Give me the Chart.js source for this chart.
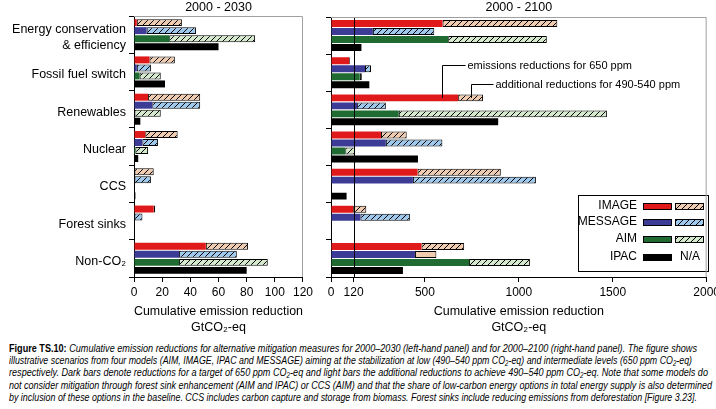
<!DOCTYPE html>
<html>
<head>
<meta charset="utf-8">
<script src="https://cdn.jsdelivr.net/npm/chart.js@4.4.1/dist/chart.umd.min.js"></script>
<style>
  body { margin: 0; background: #fff; width: 716px; height: 409px; overflow: hidden; position: relative; font-family: "Liberation Sans", Arial, sans-serif; }
  #left { position: absolute; left: 0; top: 0; }
  #right { position: absolute; left: 315px; top: 0; }
  #caption { position: absolute; left: 9px; top: 342px; font-size: 11px; line-height: 12.2px; font-style: italic; color: #000; }
  #caption div { white-space: nowrap; display: block; width: max-content; transform-origin: 0 0; }
  #caption b { font-style: normal; }
</style>
</head>
<body>
<canvas id="left" width="316" height="336"></canvas>
<canvas id="right" width="408" height="336"></canvas>
<div id="caption">
  <div><b>Figure TS.10:</b> Cumulative emission reductions for alternative mitigation measures for 2000–2030 (left-hand panel) and for 2000–2100 (right-hand panel). The figure shows</div>
  <div>illustrative scenarios from four models (AIM, IMAGE, IPAC and MESSAGE) aiming at the stabilization at low (490–540 ppm CO₂-eq) and intermediate levels (650 ppm CO₂-eq)</div>
  <div>respectively. Dark bars denote reductions for a target of 650 ppm CO₂-eq and light bars the additional reductions to achieve 490–540 ppm CO₂-eq. Note that some models do</div>
  <div>not consider mitigation through forest sink enhancement (AIM and IPAC) or CCS (AIM) and that the share of low-carbon energy options in total energy supply is also determined</div>
  <div>by inclusion of these options in the baseline. CCS includes carbon capture and storage from biomass. Forest sinks include reducing emissions from deforestation [Figure 3.23].</div>
</div>
<script>
// categories (top to bottom)
const categories = [["Energy conservation", "& efficiency"], "Fossil fuel switch", "Renewables", "Nuclear", "CCS", "Forest sinks", "Non-CO₂"];

// 2000-2030, GtCO2-eq: 650 ppm reductions and additional reductions for 490-540 ppm
const image650_2030   = [2, 11, 10, 8, null, 14, 51];
const imageAdd_2030   = [32, 18, 37, 23, 14, 1, 30];
const message650_2030 = [9, 2, 13, 6, null, null, 32];
const messageAdd_2030 = [35, 10, 34, 11, 12, 6, 41];
const aim650_2030     = [25, 4, null, 1, null, null, 32];
const aimAdd_2030     = [61, 15, 19, 9, null, null, 63];
const ipac650_2030    = [60, 22, 4.5, 3, 1, null, 80];

// 2000-2100
const image650_2100   = [594, 97, 677, 266, 461, 118, 482];
const imageAdd_2100   = [611, 5, 132, 137, 443, 70, 227];
const message650_2100 = [223, 181, 139, 292, 436, 157, 447];
const messageAdd_2100 = [327, 32, 153, 301, 655, 263, 114];
const aim650_2100     = [624, 153, 361, 76, null, null, 735];
const aimAdd_2100     = [525, 11, 1108, 52, null, null, 324];
const ipac650_2100    = [162, 204, 890, 463, 83, null, 383];

const ticks2030 = [0, 20, 40, 60, 80, 100, 120];
const ticks2100 = [0, 120, 500, 1000, 1500, 2000];

const FONT = '"Liberation Sans", Arial, sans-serif';
const RED = '#e01a1a', BLUE = '#3c3c96', GREEN = '#1f6b32';
const TAN = '#efcbb0', LBLUE = '#9ec9ef', LGREEN = '#d5eacd';

function hatch(bg) {
    const c = document.createElement('canvas');
    c.width = 6; c.height = 6;
    const g = c.getContext('2d');
    g.fillStyle = bg;
    g.fillRect(0, 0, 6, 6);
    g.strokeStyle = '#000';
    g.lineWidth = 1;
    g.beginPath();
    g.moveTo(0, 6); g.lineTo(6, 0);
    g.moveTo(-3, 3); g.lineTo(3, -3);
    g.moveTo(3, 9); g.lineTo(9, 3);
    g.stroke();
    return g.createPattern(c, 'repeat');
}

const hatchTan = hatch(TAN), hatchBlue = hatch(LBLUE), hatchGreen = hatch(LGREEN);

function solid(label, data, stack, color) {
    return { label: label, data: data, stack: stack, backgroundColor: color, borderWidth: 0 };
}
function extra(label, data, stack, fill) {
    return { label: label, data: data, stack: stack, backgroundColor: fill, borderColor: '#000', borderWidth: 1, borderSkipped: false };
}

// gray frame on top and right of plot area
const framePlugin = {
    id: 'frame',
    afterDraw(chart) {
        const a = chart.chartArea, ctx = chart.ctx;
        ctx.save();
        ctx.strokeStyle = '#a0a0a0';
        ctx.lineWidth = 1;
        ctx.beginPath();
        ctx.moveTo(a.left, a.top + 0.5);
        ctx.lineTo(a.right - 0.5, a.top + 0.5);
        ctx.lineTo(a.right - 0.5, a.bottom);
        ctx.stroke();
        // panel title
        ctx.fillStyle = '#000';
        ctx.font = '12.5px ' + FONT;
        ctx.textAlign = 'center';
        ctx.textBaseline = 'middle';
        ctx.fillText(chart.options.panelTitle, (a.left + a.right) / 2, 8);
        ctx.restore();
    }
};

// right panel extras: 120 line, annotations, legend
const rightPlugin = {
    id: 'rightExtras',
    afterDatasetsDraw(chart) {
        const ctx = chart.ctx, a = chart.chartArea, x = chart.scales.x;
        ctx.save();
        ctx.strokeStyle = '#000';
        ctx.lineWidth = 1;
        const x120 = Math.round(x.getPixelForValue(120)) + 0.5;
        ctx.beginPath();
        ctx.moveTo(x120, a.top);
        ctx.lineTo(x120, a.bottom);
        ctx.stroke();

        // annotation lines pointing at the Renewables IMAGE bar
        const e1 = chart.getDatasetMeta(0).data[2];
        const e2 = chart.getDatasetMeta(1).data[2];
        const lx1 = Math.round(e1.x - 16) + 0.5;
        const lx2 = Math.round((e2.base + e2.x) / 2) + 0.5;
        ctx.beginPath();
        ctx.moveTo(lx1, e1.y); ctx.lineTo(lx1, 65.5); ctx.lineTo(lx1 + 23, 65.5);
        ctx.moveTo(lx2, e2.y); ctx.lineTo(lx2, 84.5); ctx.lineTo(lx2 + 22, 84.5);
        ctx.stroke();
        ctx.fillStyle = '#000';
        ctx.font = '11px ' + FONT;
        ctx.textBaseline = 'middle';
        ctx.textAlign = 'left';
        ctx.fillText('emissions reductions for 650 ppm', lx1 + 25, 65.5);
        ctx.fillText('additional reductions for 490-540 ppm', lx2 + 24, 84.5);

        // legend box
        const bx = 263.5, by = 195.5, bw = 130, bh = 76;
        ctx.fillStyle = '#fff';
        ctx.fillRect(bx, by, bw, bh);
        ctx.strokeRect(bx, by, bw, bh);
        const rows = [
            ['IMAGE', RED, hatchTan, 206],
            ['MESSAGE', BLUE, hatchBlue, 222],
            ['AIM', GREEN, hatchGreen, 239],
            ['IPAC', '#000', null, 257]
        ];
        ctx.font = '12px ' + FONT;
        rows.forEach(r => {
            ctx.fillStyle = '#000';
            ctx.textAlign = 'right';
            ctx.fillText(r[0], 322, r[3]);
            ctx.fillStyle = r[1];
            ctx.fillRect(328, r[3] - 3, 29, 7);
            ctx.strokeStyle = '#000';
            ctx.strokeRect(328.5, r[3] - 2.5, 28, 6);
            if (r[2]) {
                ctx.fillStyle = r[2];
                ctx.fillRect(360, r[3] - 3, 29, 7);
                ctx.strokeRect(360.5, r[3] - 2.5, 28, 6);
            } else {
                ctx.fillStyle = '#000';
                ctx.textAlign = 'center';
                ctx.fillText('N/A', 375, r[3]);
            }
        });
        ctx.restore();
    }
};

function makeChart(id, p) {
    const ds = [
        solid('IMAGE', p.image650, 'IMAGE', RED),
        extra('IMAGE 490-540', p.imageAdd, 'IMAGE', hatchTan),
        solid('MESSAGE', p.message650, 'MESSAGE', BLUE),
        extra('MESSAGE 490-540', p.messageAdd, 'MESSAGE', p.messageAddFill || hatchBlue),
        solid('AIM', p.aim650, 'AIM', GREEN),
        extra('AIM 490-540', p.aimAdd, 'AIM', hatchGreen),
        solid('IPAC', p.ipac650, 'IPAC', '#000')
    ];
    return new Chart(document.getElementById(id), {
        type: 'bar',
        data: { labels: categories, datasets: ds },
        options: {
            indexAxis: 'y',
            responsive: false,
            animation: false,
            panelTitle: p.title,
            categoryPercentage: 0.86,
            barPercentage: 0.87,
            layout: { padding: { top: p.top, right: p.padRight, left: 0, bottom: 0 } },
            plugins: { legend: { display: false }, tooltip: { enabled: false } },
            scales: {
                x: {
                    type: 'linear',
                    min: 0,
                    max: p.max,
                    stacked: true,
                    afterBuildTicks: s => { s.ticks = p.ticks.map(v => ({ value: v })); },
                    ticks: { color: '#000', font: { size: 12, family: FONT }, padding: 3, maxRotation: 0, autoSkip: false, callback: v => String(v) },
                    grid: { drawOnChartArea: false, tickLength: 5, tickColor: '#000' },
                    border: { color: '#000', width: 1 },
                    title: {
                        display: true,
                        text: ['Cumulative emission reduction', 'GtCO₂-eq'],
                        color: '#000',
                        font: { size: 12.5, family: FONT, lineHeight: 1.3 },
                        padding: { top: 0, bottom: 0 }
                    },
                    afterFit: s => { s.height = 59; }
                },
                y: {
                    type: 'category',
                    grid: { drawOnChartArea: false, tickLength: 5, tickColor: '#000', offset: true },
                    border: { color: '#000', width: 1 },
                    ticks: { display: p.showLabels, color: '#000', font: { size: 12.5, family: FONT, lineHeight: 1.3 }, padding: 3, labelOffset: 3, autoSkip: false },
                    afterFit: s => { s.width = p.yWidth; }
                }
            }
        },
        plugins: p.plugins
    });
}

makeChart('left', {
    title: '2000 - 2030', max: 120, ticks: ticks2030, top: 16, padRight: 13, yWidth: 134, showLabels: true,
    image650: image650_2030, imageAdd: imageAdd_2030,
    message650: message650_2030, messageAdd: messageAdd_2030,
    aim650: aim650_2030, aimAdd: aimAdd_2030, ipac650: ipac650_2030,
    plugins: [framePlugin]
});

makeChart('right', {
    title: '2000 - 2100', max: 2000, ticks: ticks2100, top: 17, padRight: 0, yWidth: 16, showLabels: false,
    image650: image650_2100, imageAdd: imageAdd_2100,
    message650: message650_2100, messageAdd: messageAdd_2100,
    // MESSAGE Non-CO2 extra is drawn plain tan in the original
    messageAddFill: ctx => ctx.dataIndex === 6 ? TAN : hatchBlue,
    aim650: aim650_2100, aimAdd: aimAdd_2100, ipac650: ipac650_2100,
    plugins: [framePlugin, rightPlugin]
});

// fit each caption line to the original width
const lineEnds = [697, 692, 708, 712, 697];
document.querySelectorAll('#caption div').forEach((d, i) => {
    const w = d.getBoundingClientRect().width;
    d.style.transform = 'scaleX(' + ((lineEnds[i] - 9) / w) + ')';
});
</script>
</body>
</html>
